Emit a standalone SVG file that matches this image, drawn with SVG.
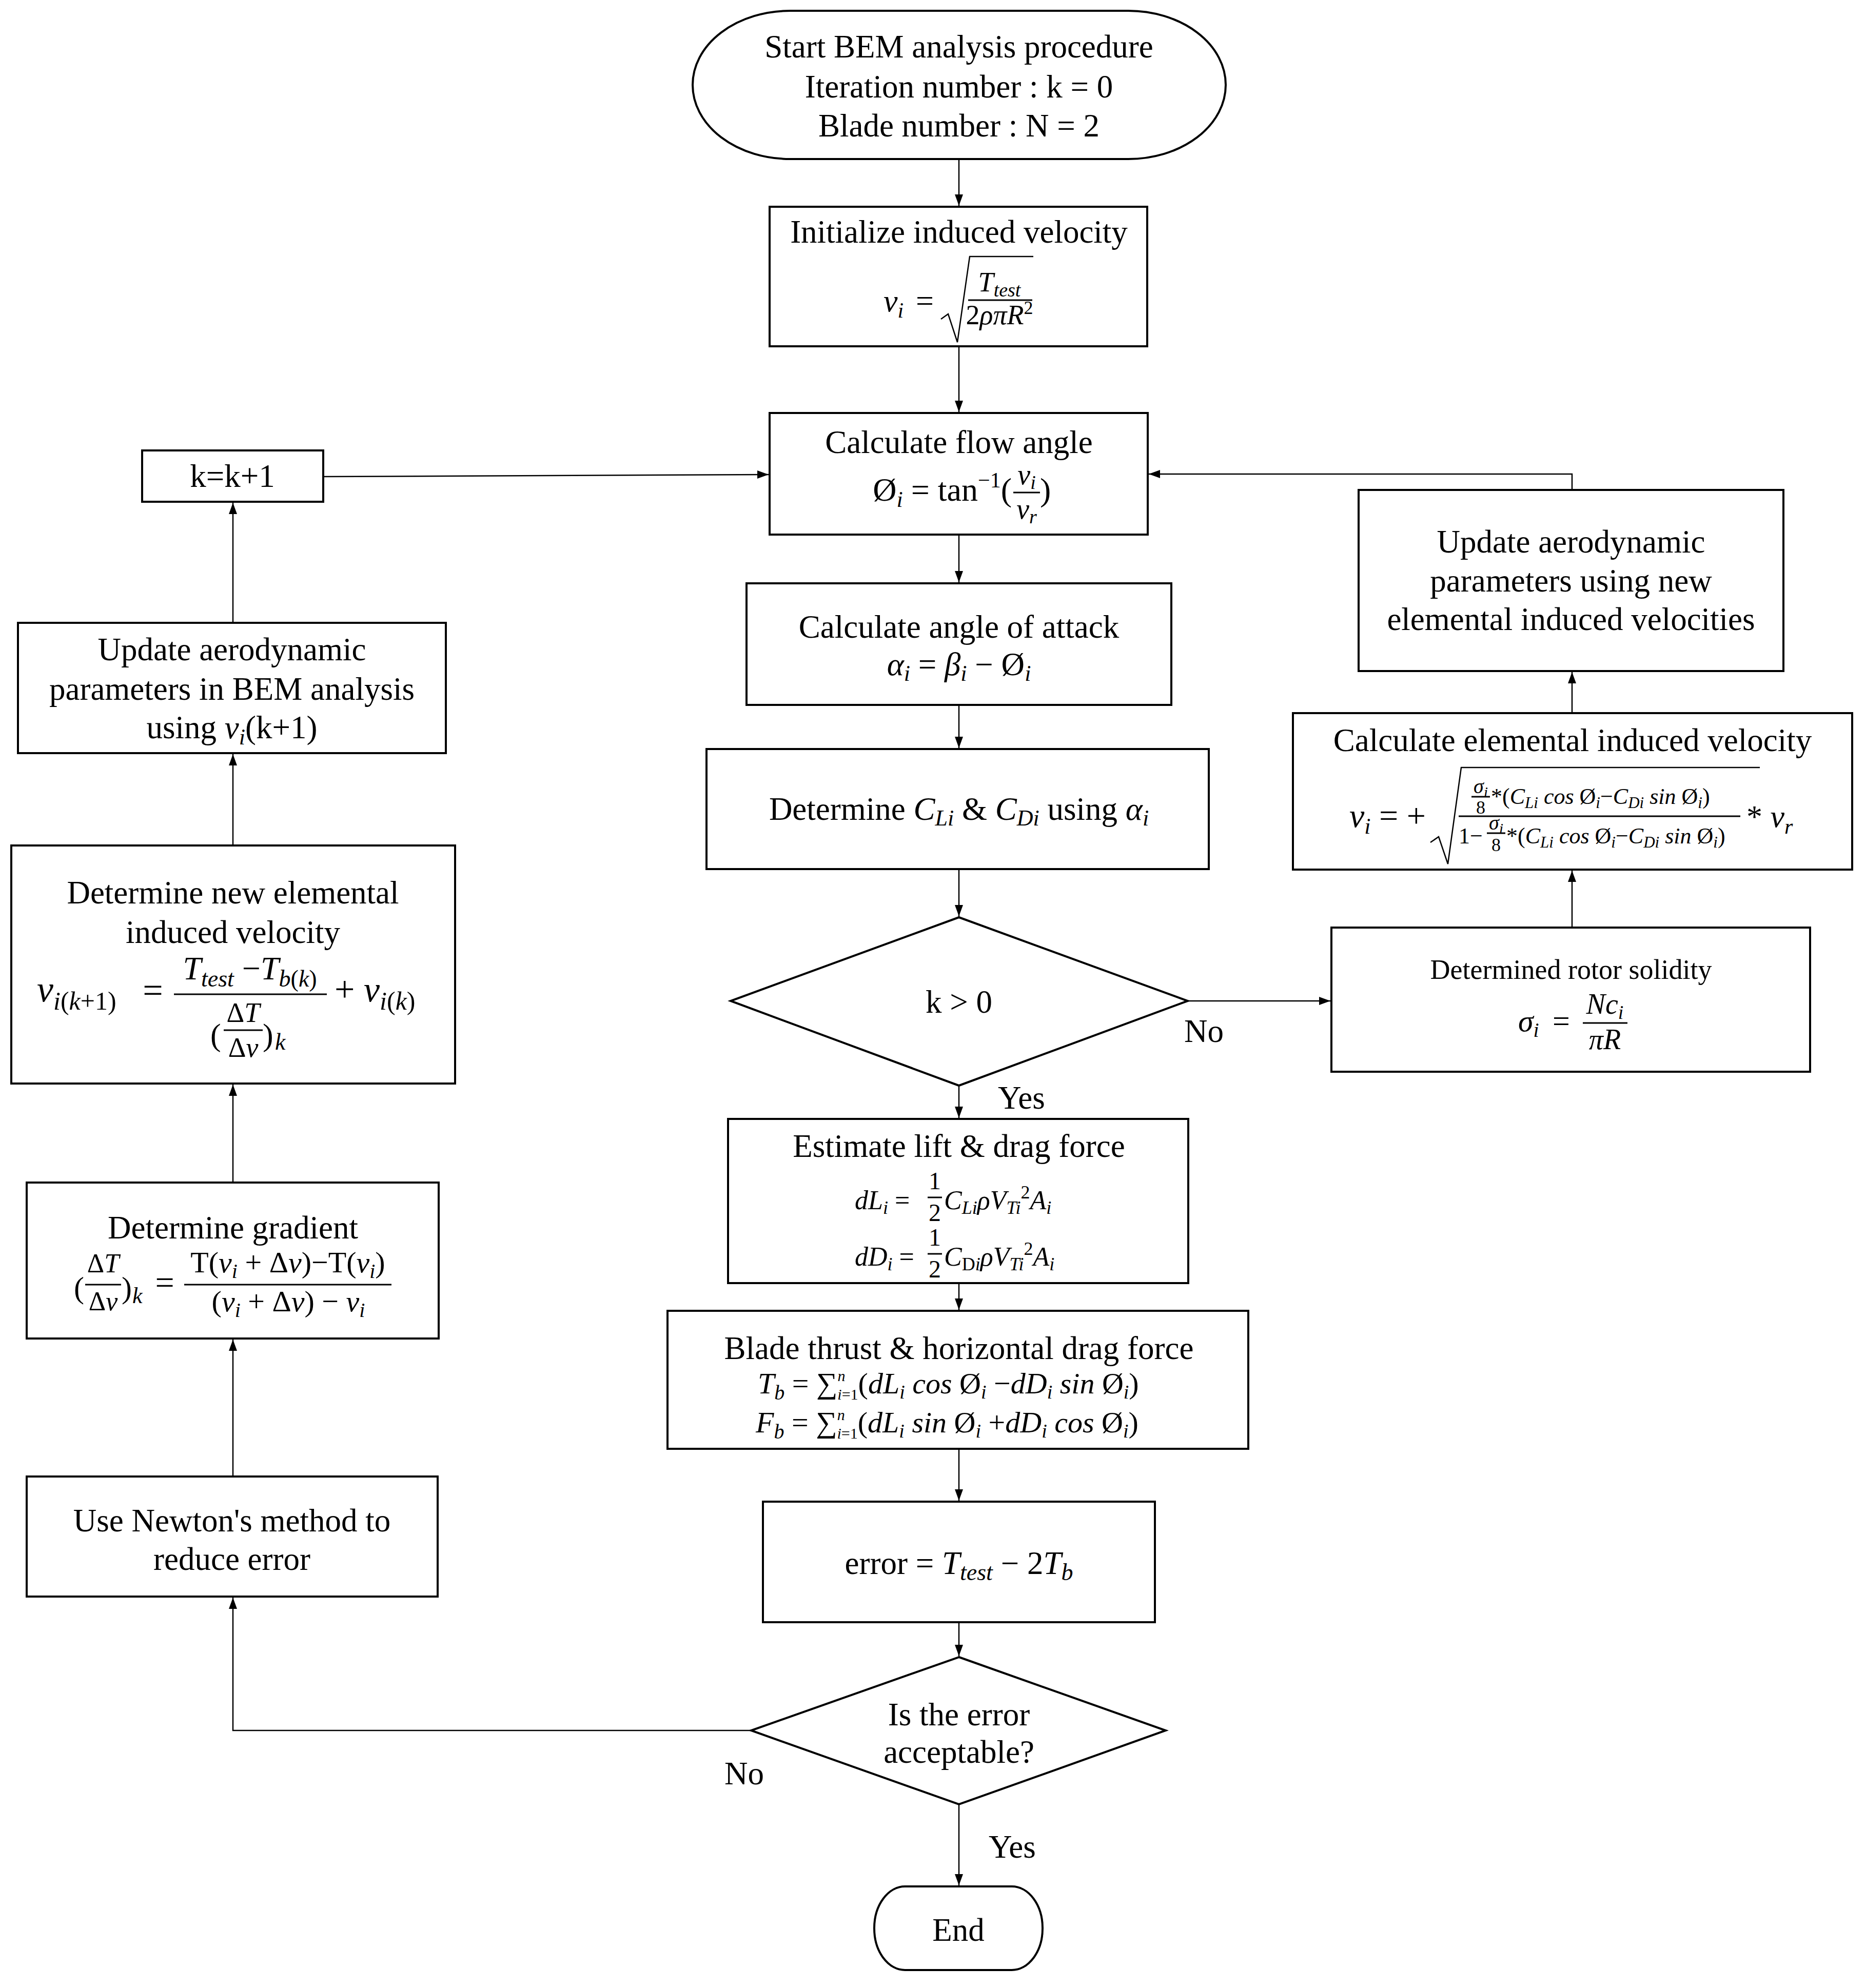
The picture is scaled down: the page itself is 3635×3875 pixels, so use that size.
<svg xmlns="http://www.w3.org/2000/svg" width="3635" height="3875" viewBox="0 0 3635 3875">
<style>
.box{fill:#fff;stroke:#000;stroke-width:4}
.ln{fill:none;stroke:#000;stroke-width:2.5}
.bar{stroke:#000;stroke-width:3}
text{font-family:"Liberation Serif","Times New Roman",serif;fill:#000}
.t{font-size:63px;text-anchor:middle}
.c{text-anchor:middle}
.m{font-style:italic}
.n{font-style:normal}
</style>
<defs>
<marker id="ah" markerUnits="userSpaceOnUse" markerWidth="22" markerHeight="20" viewBox="0 0 22 20" refX="22" refY="10" orient="auto">
<path d="M0,2 L22,10 L0,18 z" fill="#000"/>
</marker>
</defs>
<rect width="3635" height="3875" fill="#fff"/>

<g id="connectors">
<line class="ln" x1="1869" y1="310" x2="1869" y2="401" marker-end="url(#ah)"/>
<line class="ln" x1="1869" y1="675" x2="1869" y2="803" marker-end="url(#ah)"/>
<line class="ln" x1="1869" y1="1042" x2="1869" y2="1135" marker-end="url(#ah)"/>
<line class="ln" x1="1869" y1="1374" x2="1869" y2="1458" marker-end="url(#ah)"/>
<line class="ln" x1="1869" y1="1694" x2="1869" y2="1786" marker-end="url(#ah)"/>
<line class="ln" x1="1869" y1="2116" x2="1869" y2="2179" marker-end="url(#ah)"/>
<line class="ln" x1="1869" y1="2501" x2="1869" y2="2553" marker-end="url(#ah)"/>
<line class="ln" x1="1869" y1="2824" x2="1869" y2="2925" marker-end="url(#ah)"/>
<line class="ln" x1="1869" y1="3162" x2="1869" y2="3228" marker-end="url(#ah)"/>
<line class="ln" x1="1869" y1="3517" x2="1869" y2="3675" marker-end="url(#ah)"/>
<polyline class="ln" points="1464,3373 454,3373 454,3114" marker-end="url(#ah)"/>
<line class="ln" x1="454" y1="2878" x2="454" y2="2611" marker-end="url(#ah)"/>
<line class="ln" x1="454" y1="2305" x2="454" y2="2114" marker-end="url(#ah)"/>
<line class="ln" x1="454" y1="1648" x2="454" y2="1470" marker-end="url(#ah)"/>
<line class="ln" x1="454" y1="1214" x2="454" y2="980" marker-end="url(#ah)"/>
<line class="ln" x1="630" y1="929" x2="1498" y2="925" marker-end="url(#ah)"/>
<line class="ln" x1="2315" y1="1951" x2="2593" y2="1951" marker-end="url(#ah)"/>
<line class="ln" x1="3064" y1="1808" x2="3064" y2="1697" marker-end="url(#ah)"/>
<line class="ln" x1="3064" y1="1390" x2="3064" y2="1310" marker-end="url(#ah)"/>
<polyline class="ln" points="3064,955 3064,924 2239,924" marker-end="url(#ah)"/>
<text x="2308" y="2031" font-size="63">No</text>
<text x="1945" y="2161" font-size="63">Yes</text>
<text x="1412" y="3478" font-size="63">No</text>
<text x="1927" y="3621" font-size="63">Yes</text>
</g>

<g id="start">
<rect class="box" x="1350" y="21" width="1039" height="289" rx="190" ry="145"/>
<text class="t" x="1869" y="112">Start BEM analysis procedure</text>
<text class="t" x="1869" y="190">Iteration number : k = 0</text>
<text class="t" x="1869" y="266">Blade number : N = 2</text>
</g>

<g id="init">
<rect class="box" x="1500" y="403" width="736" height="272"/>
<text class="t" x="1869" y="473">Initialize induced velocity</text>
<text x="1722" y="607" font-size="62" class="m">v<tspan font-size="42" dy="12">i</tspan></text>
<text x="1785" y="607" font-size="62">=</text>
<path class="ln" stroke-width="3" d="M1834,622 L1848,612 L1866,667 L1890,500 L2014,500"/>
<text class="c m" x="1948" y="568" font-size="54">T<tspan font-size="38" dy="10">test</tspan></text>
<line class="bar" x1="1887" y1="585" x2="2012" y2="585"/>
<text class="c m" x="1948" y="632" font-size="54"><tspan class="n">2</tspan>ρπR<tspan class="n" font-size="36" dy="-20">2</tspan></text>
</g>

<g id="flow">
<rect class="box" x="1500" y="805" width="737" height="237"/>
<text class="t" x="1869" y="883">Calculate flow angle</text>
<text x="1972" y="976" font-size="64" text-anchor="end">Ø<tspan class="m" font-size="44" dy="12">i</tspan><tspan dy="-12"> = tan</tspan><tspan font-size="42" dy="-26">−1</tspan><tspan dy="26">(</tspan></text>
<text class="c m" x="2001" y="944" font-size="56">v<tspan font-size="38" dy="9">i</tspan></text>
<line class="bar" x1="1975" y1="960" x2="2027" y2="960"/>
<text class="c m" x="2001" y="1011" font-size="56">v<tspan font-size="38" dy="9">r</tspan></text>
<text x="2027" y="976" font-size="64">)</text>
</g>

<g id="attack">
<rect class="box" x="1455" y="1137" width="828" height="237"/>
<text class="t" x="1869" y="1243">Calculate angle of attack</text>
<text class="c" x="1869" y="1316" font-size="63"><tspan class="m">α</tspan><tspan class="m" font-size="44" dy="11">i</tspan><tspan dy="-11"> = </tspan><tspan class="m">β</tspan><tspan class="m" font-size="44" dy="11">i</tspan><tspan dy="-11"> − Ø</tspan><tspan class="m" font-size="44" dy="11">i</tspan></text>
</g>

<g id="coeff">
<rect class="box" x="1377" y="1460" width="979" height="234"/>
<text class="t" x="1869" y="1598">Determine <tspan class="m">C</tspan><tspan class="m" font-size="44" dy="11">Li</tspan><tspan dy="-11"> &amp; </tspan><tspan class="m">C</tspan><tspan class="m" font-size="44" dy="11">Di</tspan><tspan dy="-11"> using </tspan><tspan class="m">α</tspan><tspan class="m" font-size="44" dy="11">i</tspan></text>
</g>

<g id="dec1">
<polygon class="box" points="1869,1788 2315,1951 1869,2116 1424,1951"/>
<text class="t" x="1869" y="1974">k &gt; 0</text>
</g>

<g id="estimate">
<rect class="box" x="1419" y="2181" width="897" height="320"/>
<text class="t" x="1869" y="2255">Estimate lift &amp; drag force</text>
<text x="1666" y="2357" font-size="52" class="m">dL<tspan font-size="36" dy="9">i</tspan><tspan class="n" dy="-9"> =</tspan></text>
<text class="c" x="1822" y="2318" font-size="48">1</text>
<line class="bar" x1="1808" y1="2334" x2="1836" y2="2334"/>
<text class="c" x="1822" y="2380" font-size="48">2</text>
<text x="1840" y="2357" font-size="52" class="m">C<tspan font-size="36" dy="9">Li</tspan><tspan dy="-9">ρV</tspan><tspan font-size="36" dy="9">Ti</tspan><tspan class="n" font-size="36" dy="-30">2</tspan><tspan dy="21">A</tspan><tspan font-size="36" dy="9">i</tspan></text>
<text x="1666" y="2467" font-size="52" class="m">dD<tspan font-size="36" dy="9">i</tspan><tspan class="n" dy="-9"> =</tspan></text>
<text class="c" x="1822" y="2428" font-size="48">1</text>
<line class="bar" x1="1808" y1="2444" x2="1836" y2="2444"/>
<text class="c" x="1822" y="2490" font-size="48">2</text>
<text x="1840" y="2467" font-size="52" class="m">C<tspan class="n" font-size="36" dy="9">D</tspan><tspan font-size="36">i</tspan><tspan dy="-9">ρV</tspan><tspan font-size="36" dy="9">Ti</tspan><tspan class="n" font-size="36" dy="-30">2</tspan><tspan dy="21">A</tspan><tspan font-size="36" dy="9">i</tspan></text>
</g>

<g id="blade">
<rect class="box" x="1301" y="2555" width="1132" height="269"/>
<text class="t" x="1869" y="2649">Blade thrust &amp; horizontal drag force</text>
<text x="1477" y="2716" font-size="58" class="m">T<tspan font-size="40" dy="12">b</tspan><tspan class="n" dy="-12"> = ∑</tspan><tspan font-size="30" dy="12">i</tspan><tspan class="n" font-size="30">=1</tspan><tspan font-size="30" dx="-40" dy="-36">n</tspan><tspan class="n" dx="25" dy="24">(</tspan>dL<tspan font-size="38" dy="10">i</tspan><tspan dy="-10"> cos </tspan><tspan class="n">Ø</tspan><tspan font-size="38" dy="10">i</tspan><tspan class="n" dy="-10"> −</tspan>dD<tspan font-size="38" dy="10">i</tspan><tspan dy="-10"> sin </tspan><tspan class="n">Ø</tspan><tspan font-size="38" dy="10">i</tspan><tspan class="n" dy="-10">)</tspan></text>
<text x="1473" y="2792" font-size="58" class="m">F<tspan font-size="40" dy="12">b</tspan><tspan class="n" dy="-12"> = ∑</tspan><tspan font-size="30" dy="12">i</tspan><tspan class="n" font-size="30">=1</tspan><tspan font-size="30" dx="-40" dy="-36">n</tspan><tspan class="n" dx="25" dy="24">(</tspan>dL<tspan font-size="38" dy="10">i</tspan><tspan dy="-10"> sin </tspan><tspan class="n">Ø</tspan><tspan font-size="38" dy="10">i</tspan><tspan class="n" dy="-10"> +</tspan>dD<tspan font-size="38" dy="10">i</tspan><tspan dy="-10"> cos </tspan><tspan class="n">Ø</tspan><tspan font-size="38" dy="10">i</tspan><tspan class="n" dy="-10">)</tspan></text>
</g>

<g id="error">
<rect class="box" x="1487" y="2927" width="764" height="235"/>
<text class="t" x="1869" y="3068" font-size="66">error = <tspan class="m">T</tspan><tspan class="m" font-size="46" dy="12">test</tspan><tspan dy="-12"> − 2</tspan><tspan class="m">T</tspan><tspan class="m" font-size="46" dy="12">b</tspan></text>
</g>

<g id="dec2">
<polygon class="box" points="1869,3230 2272,3373 1869,3517 1464,3373"/>
<text class="t" x="1869" y="3363">Is the error</text>
<text class="t" x="1869" y="3436">acceptable?</text>
</g>

<g id="end">
<rect class="box" x="1704" y="3677" width="328" height="163" rx="60" ry="81"/>
<text class="t" x="1868" y="3783">End</text>
</g>

<g id="kinc">
<rect class="box" x="277" y="878" width="353" height="100"/>
<text class="t" x="453" y="949">k=k+1</text>
</g>

<g id="updateleft">
<rect class="box" x="35" y="1214" width="834" height="254"/>
<text class="t" x="452" y="1287">Update aerodynamic</text>
<text class="t" x="452" y="1364">parameters in BEM analysis</text>
<text class="t" x="452" y="1439">using <tspan class="m">v</tspan><tspan class="m" font-size="44" dy="12">i</tspan><tspan dy="-12">(k+1)</tspan></text>
</g>

<g id="newvel">
<rect class="box" x="22" y="1648" width="865" height="464"/>
<text class="t" x="454" y="1761">Determine new elemental</text>
<text class="t" x="454" y="1838">induced velocity</text>
<text x="72" y="1952" font-size="72" class="m">v<tspan font-size="50" dy="16">i<tspan class="n">(</tspan>k<tspan class="n">+1)</tspan></tspan></text>
<text class="c" x="298" y="1954" font-size="70">=</text>
<text class="c m" x="487" y="1909" font-size="64">T<tspan font-size="46" dy="14">test</tspan><tspan class="n" dy="-14"> −</tspan>T<tspan font-size="46" dy="14">b<tspan class="n">(</tspan>k<tspan class="n">)</tspan></tspan></text>
<line class="bar" x1="339" y1="1938" x2="637" y2="1938"/>
<text x="410" y="2038" font-size="62">(</text>
<text class="c" x="474" y="1992" font-size="54">Δ<tspan class="m">T</tspan></text>
<line class="bar" x1="436" y1="2008" x2="512" y2="2008"/>
<text class="c" x="474" y="2060" font-size="54">Δ<tspan class="m">v</tspan></text>
<text x="512" y="2038" font-size="62">)</text>
<text x="536" y="2046" font-size="46" class="m">k</text>
<text x="652" y="1952" font-size="70">+ <tspan class="m">v</tspan><tspan class="m" font-size="50" dy="16">i<tspan class="n">(</tspan>k<tspan class="n">)</tspan></tspan></text>
</g>

<g id="gradient">
<rect class="box" x="52" y="2305" width="803" height="304"/>
<text class="t" x="454" y="2414">Determine gradient</text>
<text x="144" y="2530" font-size="60">(</text>
<text class="c" x="201" y="2480" font-size="52">Δ<tspan class="m">T</tspan></text>
<line class="bar" x1="166" y1="2504" x2="236" y2="2504"/>
<text class="c" x="201" y="2554" font-size="52">Δ<tspan class="m">v</tspan></text>
<text x="237" y="2530" font-size="60">)</text>
<text x="258" y="2540" font-size="44" class="m">k</text>
<text class="c" x="321" y="2522" font-size="66">=</text>
<text class="c" x="561" y="2480" font-size="58">T(<tspan class="m">v</tspan><tspan class="m" font-size="40" dy="11">i</tspan><tspan dy="-11"> + Δ</tspan><tspan class="m">v</tspan>)−T(<tspan class="m">v</tspan><tspan class="m" font-size="40" dy="11">i</tspan><tspan dy="-11">)</tspan></text>
<line class="bar" x1="359" y1="2504" x2="763" y2="2504"/>
<text class="c" x="562" y="2556" font-size="58">(<tspan class="m">v</tspan><tspan class="m" font-size="40" dy="11">i</tspan><tspan dy="-11"> + Δ</tspan><tspan class="m">v</tspan>) − <tspan class="m">v</tspan><tspan class="m" font-size="40" dy="11">i</tspan></text>
</g>

<g id="newton">
<rect class="box" x="52" y="2878" width="801" height="234"/>
<text class="t" x="452" y="2985">Use Newton's method to</text>
<text class="t" x="452" y="3060">reduce error</text>
</g>

<g id="updateright">
<rect class="box" x="2648" y="955" width="828" height="353"/>
<text class="t" x="3062" y="1077">Update aerodynamic</text>
<text class="t" x="3062" y="1153">parameters using new</text>
<text class="t" x="3062" y="1228">elemental induced velocities</text>
</g>

<g id="calcvel">
<rect class="box" x="2520" y="1390" width="1090" height="305"/>
<text class="t" x="3065" y="1464">Calculate elemental induced velocity</text>
<text x="2630" y="1612" font-size="66" class="m">v<tspan font-size="44" dy="13">i</tspan><tspan class="n" dy="-13"> = +</tspan></text>
<path class="ln" stroke-width="3" d="M2788,1642 L2804,1631 L2822,1684 L2848,1496 L3430,1496"/>
<text class="c m" x="2886" y="1546" font-size="40">σ<tspan font-size="30" dy="8">i</tspan></text>
<line class="bar" x1="2868" y1="1553" x2="2904" y2="1553" stroke-width="2"/>
<text class="c" x="2886" y="1586" font-size="36">8</text>
<text x="2906" y="1567" font-size="44" class="m"><tspan class="n">*(</tspan>C<tspan font-size="31" dy="8">Li</tspan><tspan dy="-8"> cos </tspan><tspan class="n">Ø</tspan><tspan font-size="31" dy="8">i</tspan><tspan class="n" dy="-8">−</tspan>C<tspan font-size="31" dy="8">Di</tspan><tspan dy="-8"> sin </tspan><tspan class="n">Ø</tspan><tspan font-size="31" dy="8">i</tspan><tspan class="n" dy="-8">)</tspan></text>
<line class="bar" x1="2843" y1="1591" x2="3392" y2="1591"/>
<text x="2843" y="1644" font-size="44">1−</text>
<text class="c m" x="2916" y="1617" font-size="40">σ<tspan font-size="30" dy="8">i</tspan></text>
<line class="bar" x1="2898" y1="1624" x2="2934" y2="1624" stroke-width="2"/>
<text class="c" x="2916" y="1659" font-size="36">8</text>
<text x="2936" y="1644" font-size="44" class="m"><tspan class="n">*(</tspan>C<tspan font-size="31" dy="8">Li</tspan><tspan dy="-8"> cos </tspan><tspan class="n">Ø</tspan><tspan font-size="31" dy="8">i</tspan><tspan class="n" dy="-8">−</tspan>C<tspan font-size="31" dy="8">Di</tspan><tspan dy="-8"> sin </tspan><tspan class="n">Ø</tspan><tspan font-size="31" dy="8">i</tspan><tspan class="n" dy="-8">)</tspan></text>
<text x="3404" y="1612" font-size="62"><tspan>* </tspan><tspan class="m">v</tspan><tspan class="m" font-size="42" dy="13">r</tspan></text>
</g>

<g id="solidity">
<rect class="box" x="2595" y="1808" width="933" height="281"/>
<text class="c" x="3062" y="1908" font-size="54">Determined rotor solidity</text>
<text x="2959" y="2010" font-size="60" class="m">σ<tspan font-size="40" dy="11">i</tspan></text>
<text x="3026" y="2010" font-size="60">=</text>
<text class="c m" x="3128" y="1976" font-size="56">Nc<tspan font-size="38" dy="10">i</tspan></text>
<line class="bar" x1="3085" y1="1994" x2="3172" y2="1994"/>
<text class="c m" x="3128" y="2045" font-size="56">πR</text>
</g>
</svg>
